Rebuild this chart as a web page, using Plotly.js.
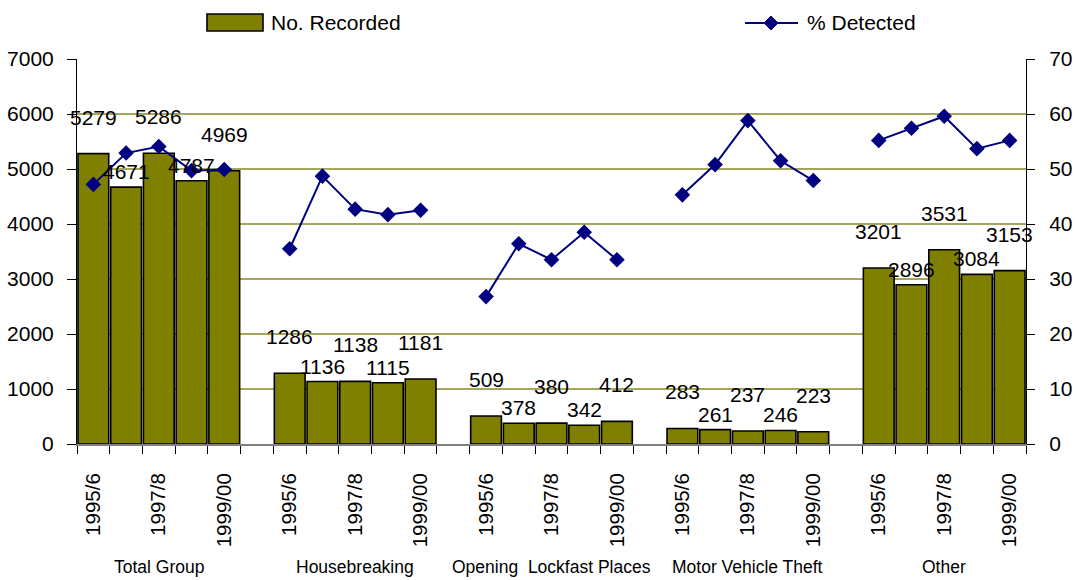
<!DOCTYPE html>
<html>
<head>
<meta charset="utf-8">
<script src="https://cdn.plot.ly/plotly-3.0.1.min.js"></script>
<style>html,body{margin:0;padding:0;background:#fff;}#chart{width:1077px;height:580px;}</style>
</head>
<body>
<div id="chart"></div>
<script>
const years = ['1995/6', '1996/7', '1997/8', '1998/9', '1999/00'];
const groups = ['Total Group', 'Housebreaking', 'Opening  Lockfast Places', 'Motor Vehicle Theft', 'Other'];
const seriesNames = ['No. Recorded', '% Detected'];

const recordedTotalGroup = [5279, 4671, 5286, 4787, 4969];
const recordedHousebreaking = [1286, 1136, 1138, 1115, 1181];
const recordedLockfast = [509, 378, 380, 342, 412];
const recordedMotorVehicle = [283, 261, 237, 246, 223];
const recordedOther = [3201, 2896, 3531, 3084, 3153];

const detectedTotalGroup = [47.2, 52.9, 54.1, 49.7, 49.9];
const detectedHousebreaking = [35.5, 48.7, 42.7, 41.7, 42.5];
const detectedLockfast = [26.8, 36.4, 33.5, 38.5, 33.5];
const detectedMotorVehicle = [45.3, 50.8, 58.8, 51.5, 47.9];
const detectedOther = [55.2, 57.4, 59.6, 53.7, 55.2];

const recordedByGroup = [recordedTotalGroup, recordedHousebreaking, recordedLockfast, recordedMotorVehicle, recordedOther];
const detectedByGroup = [detectedTotalGroup, detectedHousebreaking, detectedLockfast, detectedMotorVehicle, detectedOther];

const slot = years.length + 1; // one empty category slot between groups
const barX = [], barY = [], barIdx = [], lineX = [], lineY = [];
recordedByGroup.forEach((vals, g) => {
  vals.forEach((v, i) => { barX.push(g * slot + i); barY.push(v); barIdx.push(i); });
});
detectedByGroup.forEach((vals, g) => {
  vals.forEach((v, i) => { lineX.push(g * slot + i); lineY.push(v); });
  if (g < detectedByGroup.length - 1) { lineX.push(g * slot + years.length); lineY.push(null); }
});
const tickvals = [], ticktext = [];
groups.forEach((_, g) => {
  [0, 2, 4].forEach(i => { tickvals.push(g * slot + i); ticktext.push(years[i]); });
});
const nSlots = groups.length * slot - 1;

const FONT = 'Liberation Sans, Arial, sans-serif';
const W = 1077, H = 580;
const M = {l: 77, r: 51, t: 59, b: 136};
const PW = W - M.l - M.r, PH = H - M.t - M.b;
const px = x => (x - M.l) / PW;          // pixel -> paper x
const py = y => (H - M.b - y) / PH;      // pixel -> paper y

const traces = [
  {
    type: 'bar', x: barX, y: barY, name: seriesNames[0],
    marker: {color: '#808000', line: {color: '#000000', width: 1.6}},
    showlegend: false, hoverinfo: 'x+y'
  },
  {
    type: 'scatter', mode: 'lines+markers', x: lineX, y: lineY, yaxis: 'y2',
    name: seriesNames[1], connectgaps: false,
    line: {color: '#000080', width: 2},
    marker: {symbol: 'diamond', size: 12, color: '#000080'},
    showlegend: false
  }
];

// data labels (staggered like the original: alternate labels lifted)
const annotations = barX.map((x, k) => ({
  x: x, y: barY[k], xref: 'x', yref: 'y', text: String(barY[k]), showarrow: false,
  xanchor: 'center', yanchor: 'bottom', yshift: 2 + (barIdx[k] % 2 ? 0 : 21),
  font: {family: FONT, size: 21, color: '#000'}
}));
// group names
groups.forEach((name, g) => annotations.push({
  x: g * slot + (years.length - 1) / 2, y: py(567), xref: 'x', yref: 'paper',
  text: name, showarrow: false, xanchor: 'center', yanchor: 'middle',
  font: {family: FONT, size: 17.5, color: '#000'}
}));
// legend texts
annotations.push({x: px(269), y: py(22), xref: 'paper', yref: 'paper', text: seriesNames[0],
  showarrow: false, xanchor: 'left', yanchor: 'middle', font: {family: FONT, size: 21, color: '#000'}});
annotations.push({x: px(805), y: py(22), xref: 'paper', yref: 'paper', text: seriesNames[1],
  showarrow: false, xanchor: 'left', yanchor: 'middle', font: {family: FONT, size: 21, color: '#000'}});

const shapes = [
  {type: 'rect', xref: 'paper', yref: 'paper', x0: px(207), x1: px(263), y0: py(31), y1: py(14),
   fillcolor: '#808000', line: {color: '#000', width: 1.6}},
  {type: 'line', xref: 'paper', yref: 'paper', x0: px(745), x1: px(798), y0: py(23), y1: py(23),
   line: {color: '#000080', width: 2}},
  {type: 'path', xref: 'paper', yref: 'paper',
   path: `M ${px(771)} ${py(16)} L ${px(778)} ${py(23)} L ${px(771)} ${py(30)} L ${px(764)} ${py(23)} Z`,
   fillcolor: '#000080', line: {color: '#000080', width: 1}}
];

const layout = {
  width: W, height: H,
  margin: M,
  paper_bgcolor: '#ffffff', plot_bgcolor: '#ffffff',
  bargap: 0.06,
  font: {family: FONT, size: 21, color: '#000'},
  showlegend: false,
  xaxis: {
    range: [-0.5, nSlots - 0.5], tickmode: 'array', tickvals: tickvals, ticktext: ticktext,
    tickangle: -90, ticks: '', showgrid: false, zeroline: false,
    showline: true, linecolor: '#808080', linewidth: 2,
    ticklabelstandoff: 19,
    tickfont: {family: FONT, size: 20.5, color: '#000'},
    minor: {ticks: 'outside', ticklen: 8, tickcolor: '#000', tickwidth: 1, tick0: -0.5, dtick: 1, showgrid: false}
  },
  yaxis: {
    range: [0, 7000], dtick: 1000, tick0: 0, showgrid: true, gridcolor: '#a6a65a', gridwidth: 1.5,
    zeroline: false, showline: true, linecolor: '#000', linewidth: 1,
    ticks: 'outside', ticklen: 9, tickcolor: '#000', ticklabelstandoff: 9,
    tickfont: {family: FONT, size: 21, color: '#000'}
  },
  yaxis2: {
    range: [0, 70], dtick: 10, tick0: 0, overlaying: 'y', side: 'right', showgrid: false,
    zeroline: false, showline: true, linecolor: '#000', linewidth: 1,
    ticks: 'outside', ticklen: 8, tickcolor: '#000', ticklabelstandoff: 10,
    tickfont: {family: FONT, size: 21, color: '#000'}
  },
  annotations: annotations,
  shapes: shapes
};

Plotly.newPlot('chart', traces, layout, {displayModeBar: false, staticPlot: true});
</script>
</body>
</html>
